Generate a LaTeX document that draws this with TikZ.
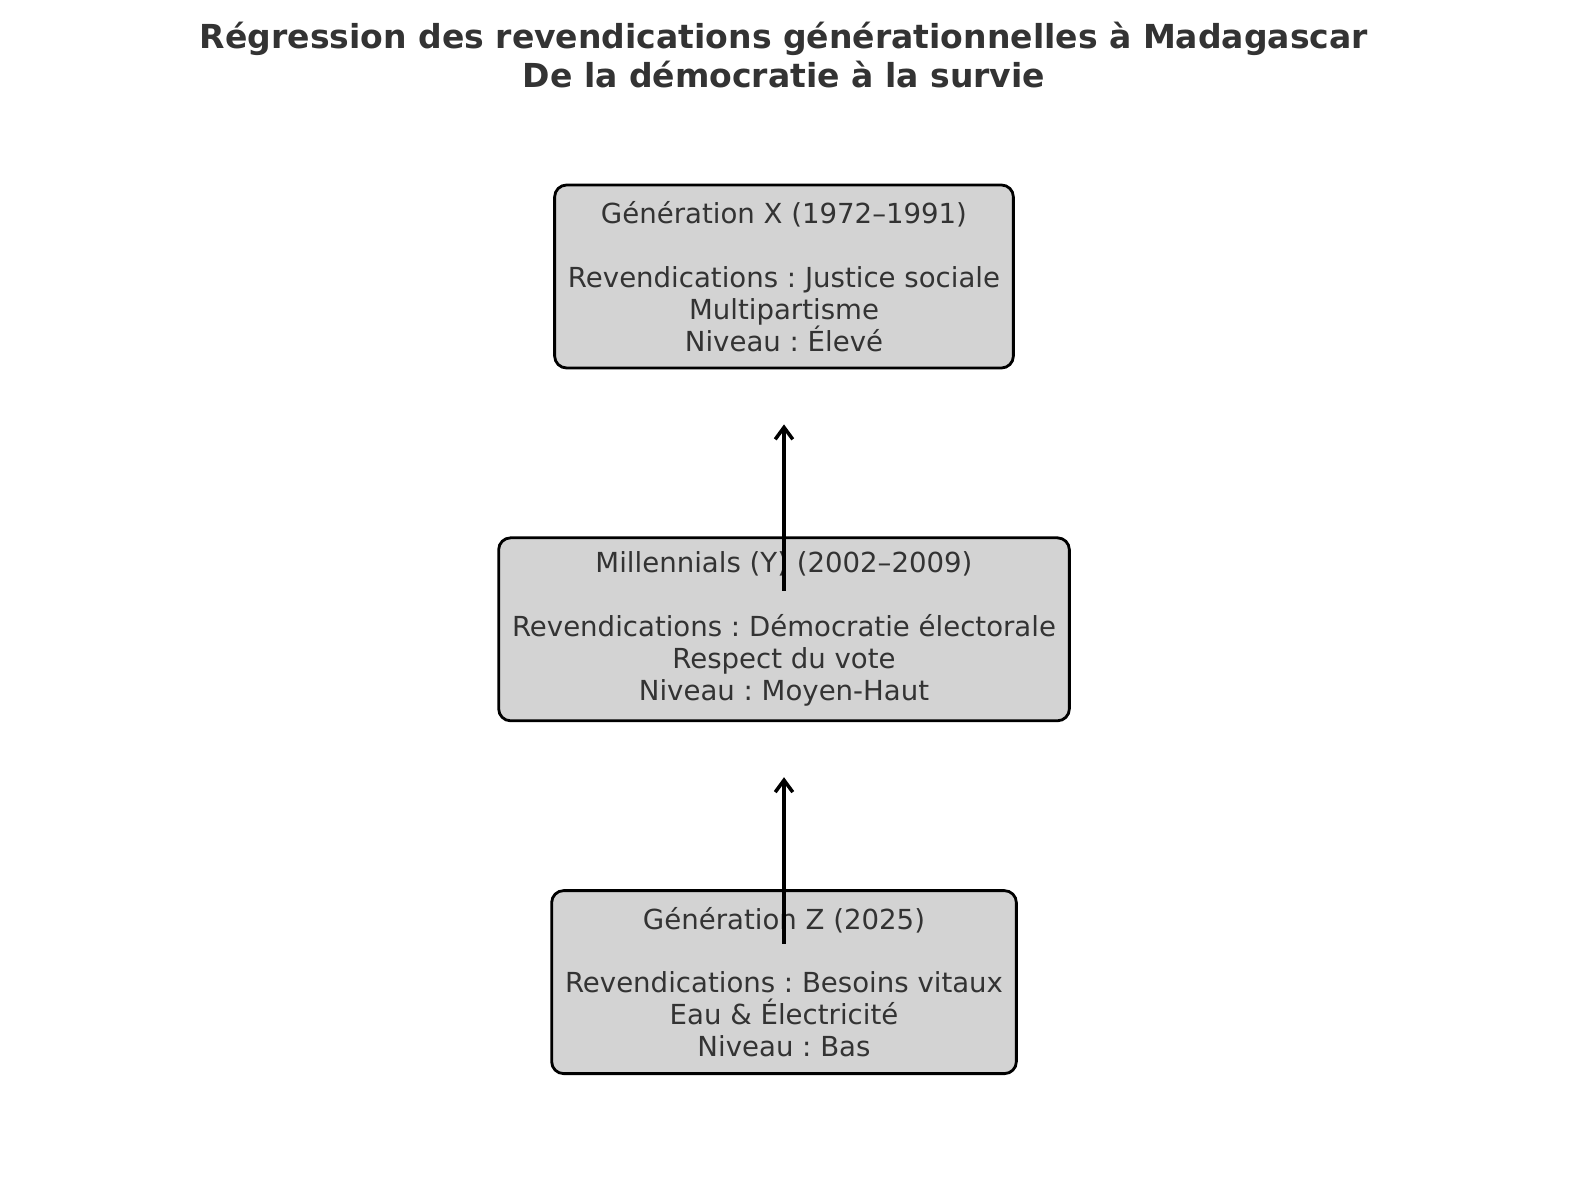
\documentclass[tikz,border=0pt]{standalone}
\usepackage{fontspec}
\setmainfont{DejaVu Sans}
\usetikzlibrary{arrows.meta, positioning}
\definecolor{txtgray}{HTML}{333333}
\definecolor{boxgray}{HTML}{D3D3D3}
\frenchspacing
\begin{document}
\begin{tikzpicture}[
		gen/.style={draw,rectangle,rounded corners=3.4pt,line width=0.8pt,fill=boxgray,text=txtgray,align=center,inner xsep=3.8pt,minimum height=1.83cm,node distance=1.67cm,font=\fontsize{7.85pt}{9.1pt}\selectfont},
		up/.style={-{Straight Barb[length=3.4pt,width=5pt]},line width=1pt}]
		\useasboundingbox (0,0) rectangle (15.8,11.8);
		\node (title) [text=txtgray,align=center,font=\fontsize{9.4pt}{11.1pt}\selectfont\bfseries] at (7.84,11.245) {Régression des revendications générationnelles à Madagascar\\De la démocratie à la survie};
		\node (genx) [gen] at (7.84,9.035) {Génération X (1972–1991)\\[9.1pt]Revendications : Justice sociale\\Multipartisme\\Niveau : Élevé};
		\node (geny) [gen,below=of genx] {Millennials (Y) (2002–2009)\\[9.1pt]Revendications : Démocratie électorale\\Respect du vote\\Niveau : Moyen-Haut};
		\node (genz) [gen,below=of geny] {Génération Z (2025)\\[9.1pt]Revendications : Besoins vitaux\\Eau \& Électricité\\Niveau : Bas};
		\coordinate (zfoot) at ([yshift=0.385cm]genz.center);
		\coordinate (ytip) at ([yshift=-0.55cm]geny.south);
		\coordinate (yfoot) at ([yshift=0.385cm]geny.center);
		\coordinate (xtip) at ([yshift=-0.55cm]genx.south);
		\draw [up] (zfoot) -- (ytip);
		\draw [up] (yfoot) -- (xtip);
	\end{tikzpicture}
\end{document}
